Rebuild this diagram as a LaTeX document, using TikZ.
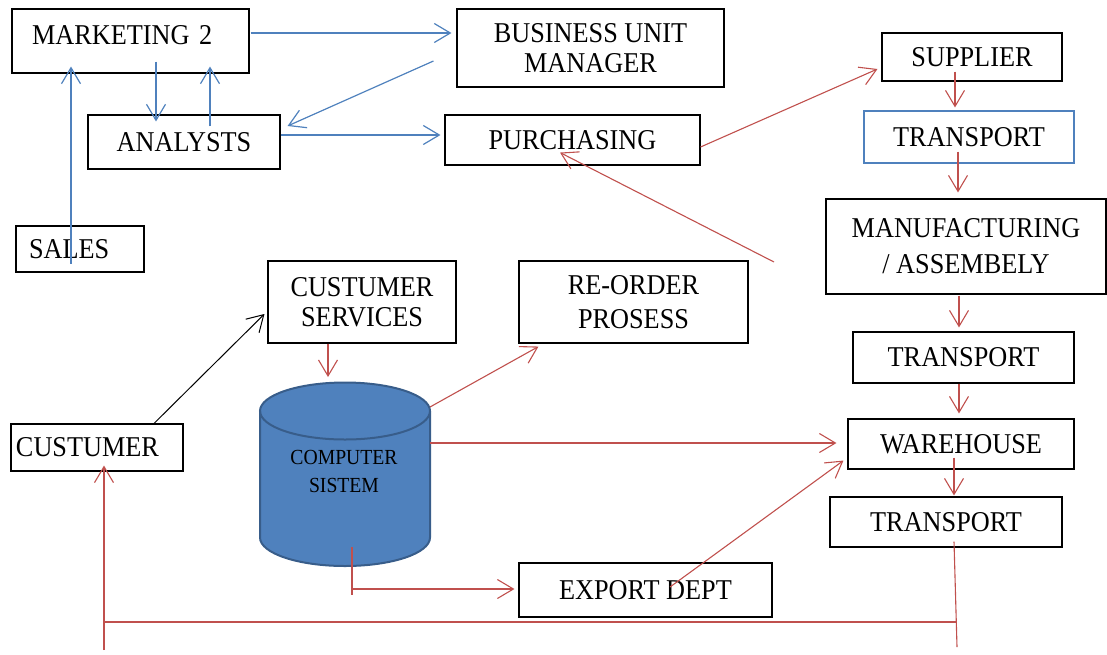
\documentclass[tikz,border=0pt]{standalone}
\usepackage{fontspec}
\setmainfont{Liberation Serif}[FakeStretch=0.915]
\usetikzlibrary{arrows.meta,calc}
\definecolor{lnblue}{HTML}{4F81BD}
\definecolor{lnred}{HTML}{C0504D}
\definecolor{dbfill}{HTML}{4F81BD}
\definecolor{dbedge}{HTML}{385D8A}
\begin{document}
\begin{tikzpicture}[x=1pt,y=-1pt,>={Straight Barb[length=16pt,width=19pt]},
	every node/.style={font=\fontsize{28.7}{30}\selectfont},
	box/.style={draw,line width=1.1pt,inner sep=0pt,align=center},
	bl/.style={->,lnblue,line width=1.2pt},
	rd/.style={->,lnred,line width=1.1pt},
	rdl/.style={lnred,line width=1.1pt}]
	\useasboundingbox(0,0)rectangle(1107,654);
	\coordinate(dbtop)at(345,383);
	\coordinate(dbE)at(430,443);
	\coordinate(dbNE)at(430,407);
	\coordinate(dbS)at(352,547);
	\coordinate(dbSS)at(352,595);
	\coordinate(ret)at(774,262);
	\coordinate(endR)at(957,647);
	\coordinate(endL)at(104,650);
	\coordinate(loopL)at(104,622);
	\coordinate(loopR)at(957,622);
	%boxes
	\node[box,minimum height=64pt,text width=197pt,inner xsep=20pt,align=left,text depth=12pt](mkt)at(130.5,41){MARKETING 2};
	\node[box,minimum width=267pt,minimum height=78pt](bum)at(590.5,48){BUSINESS UNIT\\MANAGER};
	\node[box,minimum width=192pt,minimum height=54pt](ana)at(184,142){ANALYSTS};
	\node[box,minimum width=255pt,minimum height=50pt](pur)at(572.5,140){PURCHASING};
	\node[box,minimum height=46pt,text width=102pt,inner xsep=13pt,align=left](sal)at(80,249){SALES};
	\node[box,minimum width=180pt,minimum height=48pt](sup)at(972,57){SUPPLIER};
	\node[box,draw=lnblue,minimum width=210pt,minimum height=52pt](tr1)at(969,137){TRANSPORT};
	\node[box,minimum width=280pt,minimum height=95pt](man)at(966,246.5){MANUFACTURING\\[6pt]/ ASSEMBELY};
	\node[box,minimum width=188pt,minimum height=82pt](cs)at(362,302){CUSTUMER\\SERVICES};
	\node[box,minimum width=229pt,minimum height=82pt](ro)at(633.5,302){RE-ORDER\\[4pt]PROSESS};
	\node[box,minimum width=221pt,minimum height=51pt](tr2)at(963.5,357.5){TRANSPORT};
	\node[box,minimum width=226pt,minimum height=50pt](wh)at(961,444){WAREHOUSE};
	\node[box,minimum width=232pt,minimum height=50pt](tr3)at(946,522){TRANSPORT};
	\node[box,minimum width=253pt,minimum height=54pt](exp)at(645.5,590){EXPORT DEPT};
	\node[box,minimum height=47pt,text width=162pt,inner xsep=5pt,align=left](cus)at(97,447.5){CUSTUMER};
	%database
	\fill[dbfill](260,411)--(260,537.5)arc[start angle=180,end angle=0,x radius=85,y radius=28.5]--(430,411)arc[start angle=0,end angle=-180,x radius=85,y radius=28.5]--cycle;
	\draw[dbedge,line width=2pt](260,411)--(260,537.5)arc[start angle=180,end angle=0,x radius=85,y radius=28.5]--(430,411);
	\draw[dbedge,line width=2pt](345,411)ellipse[x radius=85,y radius=28.5];
	\node[font=\fontsize{21.5}{28}\selectfont,align=center](db)at(344,471){COMPUTER\\SISTEM};
	%blue flow
	\draw[bl]($(sal.south)+(-9,-9)$)--($(mkt.south)+(-59.5,-7)$);
	\draw[bl]($(mkt.south)+(25.5,-12)$)--($(ana.north)+(-28,7)$);
	\draw[bl]($(ana.north)+(26,12)$)--($(mkt.south)+(79.5,-7)$);
	\draw[bl]($(mkt.east)+(1,-8)$)--($(bum.west)+(-5,-15)$);
	\draw[bl]($(bum.west)+(-23,13)$)--($(ana.east)+(7,-16)$);
	\draw[bl]($(ana.east)+(0,-7)$)--($(pur.west)+(-4,-5)$);
	%red flow
	\draw[rd]($(pur.east)+(0,7)$)--($(sup.west)+(-4,12)$);
	\draw[rd]($(sup.south)+(-17,-10)$)--($(tr1.north)+(-14,-3)$);
	\draw[rd]($(tr1.south)+(-11,-12)$)--($(man.north)+(-8,-6)$);
	\draw[rd](ret)--($(pur.south)+(-12.5,-13)$);
	\draw[rd]($(man.south)+(-7,1)$)--($(tr2.north)+(-4.5,-4)$);
	\draw[rd]($(tr2.south)+(-4.5,0)$)--($(wh.north)+(-2,-5)$);
	\draw[rd]($(wh.south)+(-7,-12)$)--($(tr3.north)+(8,-1)$);
	\draw[rd]($(cs.south)+(-34,0)$)--($(dbtop)+(-17,-6)$);
	\draw[rd](dbE)--($(wh.west)+(-11,-1)$);
	\draw[rd](dbNE)--($(ro.south west)+(20,3)$);
	\draw[rd]($(exp.center)+(24.5,-3)$)--($(wh.south west)+(-4,-9)$);
	\draw[rdl](dbS)--(dbSS);
	\draw[rd]($(dbS|-exp.west)+(0,-1)$)--($(exp.west)+(-4,-1)$);
	\draw[rdl]($(tr3.south)+(8,-6)$)--(endR);
	\draw[rdl](loopL)--(loopR);
	\draw[rd](endL)--($(cus.south)+(7,-6)$);
	%customer
	\draw[->,line width=1pt]($(cus.north)+(57,0)$)--($(cs.west)+(-3,12)$);
\end{tikzpicture}
\end{document}
